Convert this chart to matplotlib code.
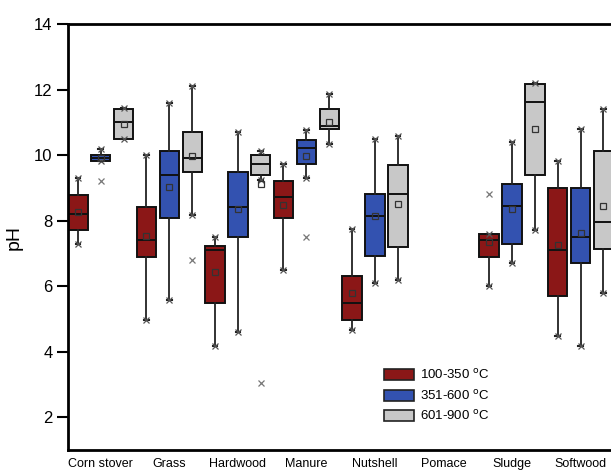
import numpy as np
import matplotlib.pyplot as plt
import matplotlib.transforms as mtransforms
from matplotlib.patches import Patch

plt.rcParams['font.family'] = ['Liberation Sans', 'DejaVu Sans']

nan = np.nan
categories = ['Corn stover', 'Grass', 'Hardwood', 'Manure', 'Nutshell', 'Pomace', 'Sludge', 'Softwood']
series_labels = ['100-350 $^{\\mathrm{o}}$C', '351-600 $^{\\mathrm{o}}$C', '601-900 $^{\\mathrm{o}}$C']
colors = ['#8b1717', '#3352b0', '#c8c8c8']

# one row per temperature range, one column per feedstock (nan = no data)
whislo = [[7.30, 4.96, 4.18, 6.49, 4.65, nan, 6.01, 4.49],
          [9.82, 5.59, 4.60, 9.31, 6.10, nan, 6.72, 4.18],
          [10.50, 8.19, 9.24, 10.34, 6.20, nan, 7.71, 5.80]]
q1 = [[7.73, 6.89, 5.50, 8.09, 4.96, nan, 6.89, 5.70],
      [9.82, 8.09, 7.51, 9.73, 6.91, nan, 7.30, 6.71],
      [10.50, 9.49, 9.39, 10.79, 7.20, nan, 9.39, 7.15]]
med = [[8.22, 7.42, 7.10, 8.72, 5.50, nan, 7.42, 7.10],
       [9.91, 9.40, 8.41, 10.22, 8.15, nan, 8.45, 7.51],
       [11.01, 9.91, 9.74, 10.90, 8.81, nan, 11.63, 7.96]]
mean = [[8.27, 7.53, 6.45, 8.48, 5.78, nan, 7.35, 7.26],
        [9.91, 9.02, 8.35, 9.99, 8.15, nan, 8.37, 7.64],
        [10.97, 9.98, 9.13, 11.02, 8.50, nan, 10.80, 8.45]]
q3 = [[8.80, 8.42, 7.23, 9.20, 6.30, nan, 7.59, 8.99],
      [10.00, 10.12, 9.50, 10.46, 8.81, nan, 9.11, 8.99],
      [11.40, 10.71, 10.02, 11.42, 9.70, nan, 12.17, 10.13]]
whishi = [[9.31, 10.00, 7.51, 9.72, 7.76, nan, 7.59, 9.83],
          [10.18, 11.61, 10.72, 10.76, 10.50, nan, 10.41, 10.80],
          [11.45, 12.12, 10.13, 11.86, 10.59, nan, 12.20, 11.42]]
outliers = [[[], [], [], [], [], [], [8.81], []],
            [[9.21], [], [], [7.51], [], [], [], []],
            [[], [6.79], [3.05], [], [], [], [], []]]

fig = plt.figure(figsize=(6.11, 4.73), dpi=100)
ax = fig.add_axes([68 / 611, 1 - 450 / 473, 1 - 68 / 611, (450 - 24.3) / 473])

offset = 0.335
for j in range(3):
    stats, pos = [], []
    for i in range(len(categories)):
        if np.isnan(med[j][i]):
            continue
        stats.append(dict(whislo=whislo[j][i], q1=q1[j][i], med=med[j][i], mean=mean[j][i],
                          q3=q3[j][i], whishi=whishi[j][i], fliers=outliers[j][i]))
        pos.append(i + (j - 1) * offset)
    bp = ax.bxp(stats, positions=pos, widths=0.28, patch_artist=True, showmeans=True,
                capwidths=0.07,
                boxprops=dict(facecolor=colors[j], edgecolor='#111111', linewidth=1.4),
                whiskerprops=dict(color='#222222', linewidth=1.3),
                capprops=dict(color='#222222', linewidth=1.5),
                medianprops=dict(color='#111111', linewidth=1.4),
                meanprops=dict(marker='s', markersize=5, markerfacecolor='none',
                               markeredgecolor='#333333', markeredgewidth=0.9),
                flierprops=dict(marker='x', markersize=4, markeredgecolor='#777777',
                                markeredgewidth=0.9))
    ends_lo = [s['whislo'] for s in stats]
    ends_hi = [s['whishi'] for s in stats]
    ax.plot(pos, ends_lo, 'x', ms=4, mec='#555555', mew=0.9)
    ax.plot(pos, ends_hi, 'x', ms=4, mec='#555555', mew=0.9)

ax.set_xlim(-0.48, 7.445)
ax.set_ylim(1, 14)
ax.set_yticks([2, 4, 6, 8, 10, 12, 14])
ax.set_xticks(range(len(categories)))
ax.set_xticklabels(categories, fontsize=9)
shift = mtransforms.ScaledTranslation(0.05, 0, fig.dpi_scale_trans)
for lab in ax.get_xticklabels():
    lab.set_transform(lab.get_transform() + shift)
ax.tick_params(axis='x', length=0, pad=6)
ax.tick_params(axis='y', length=8, width=1.5, labelsize=12, pad=3)
ax.set_ylabel('pH', fontsize=14, labelpad=8)

for side in ['left', 'top', 'bottom']:
    ax.spines[side].set_linewidth(2)
ax.spines['right'].set_visible(False)

handles = [Patch(facecolor=c, edgecolor='#222222', linewidth=1.2) for c in colors]
fig.legend(handles, series_labels, loc='upper left', bbox_to_anchor=(384 / 611, 1 - 368 / 473),
           frameon=False, fontsize=9.5, handlelength=2.3, handleheight=0.9,
           handletextpad=0.45, labelspacing=0.5, borderpad=0, borderaxespad=0)

fig.savefig('out.png', dpi=100)
